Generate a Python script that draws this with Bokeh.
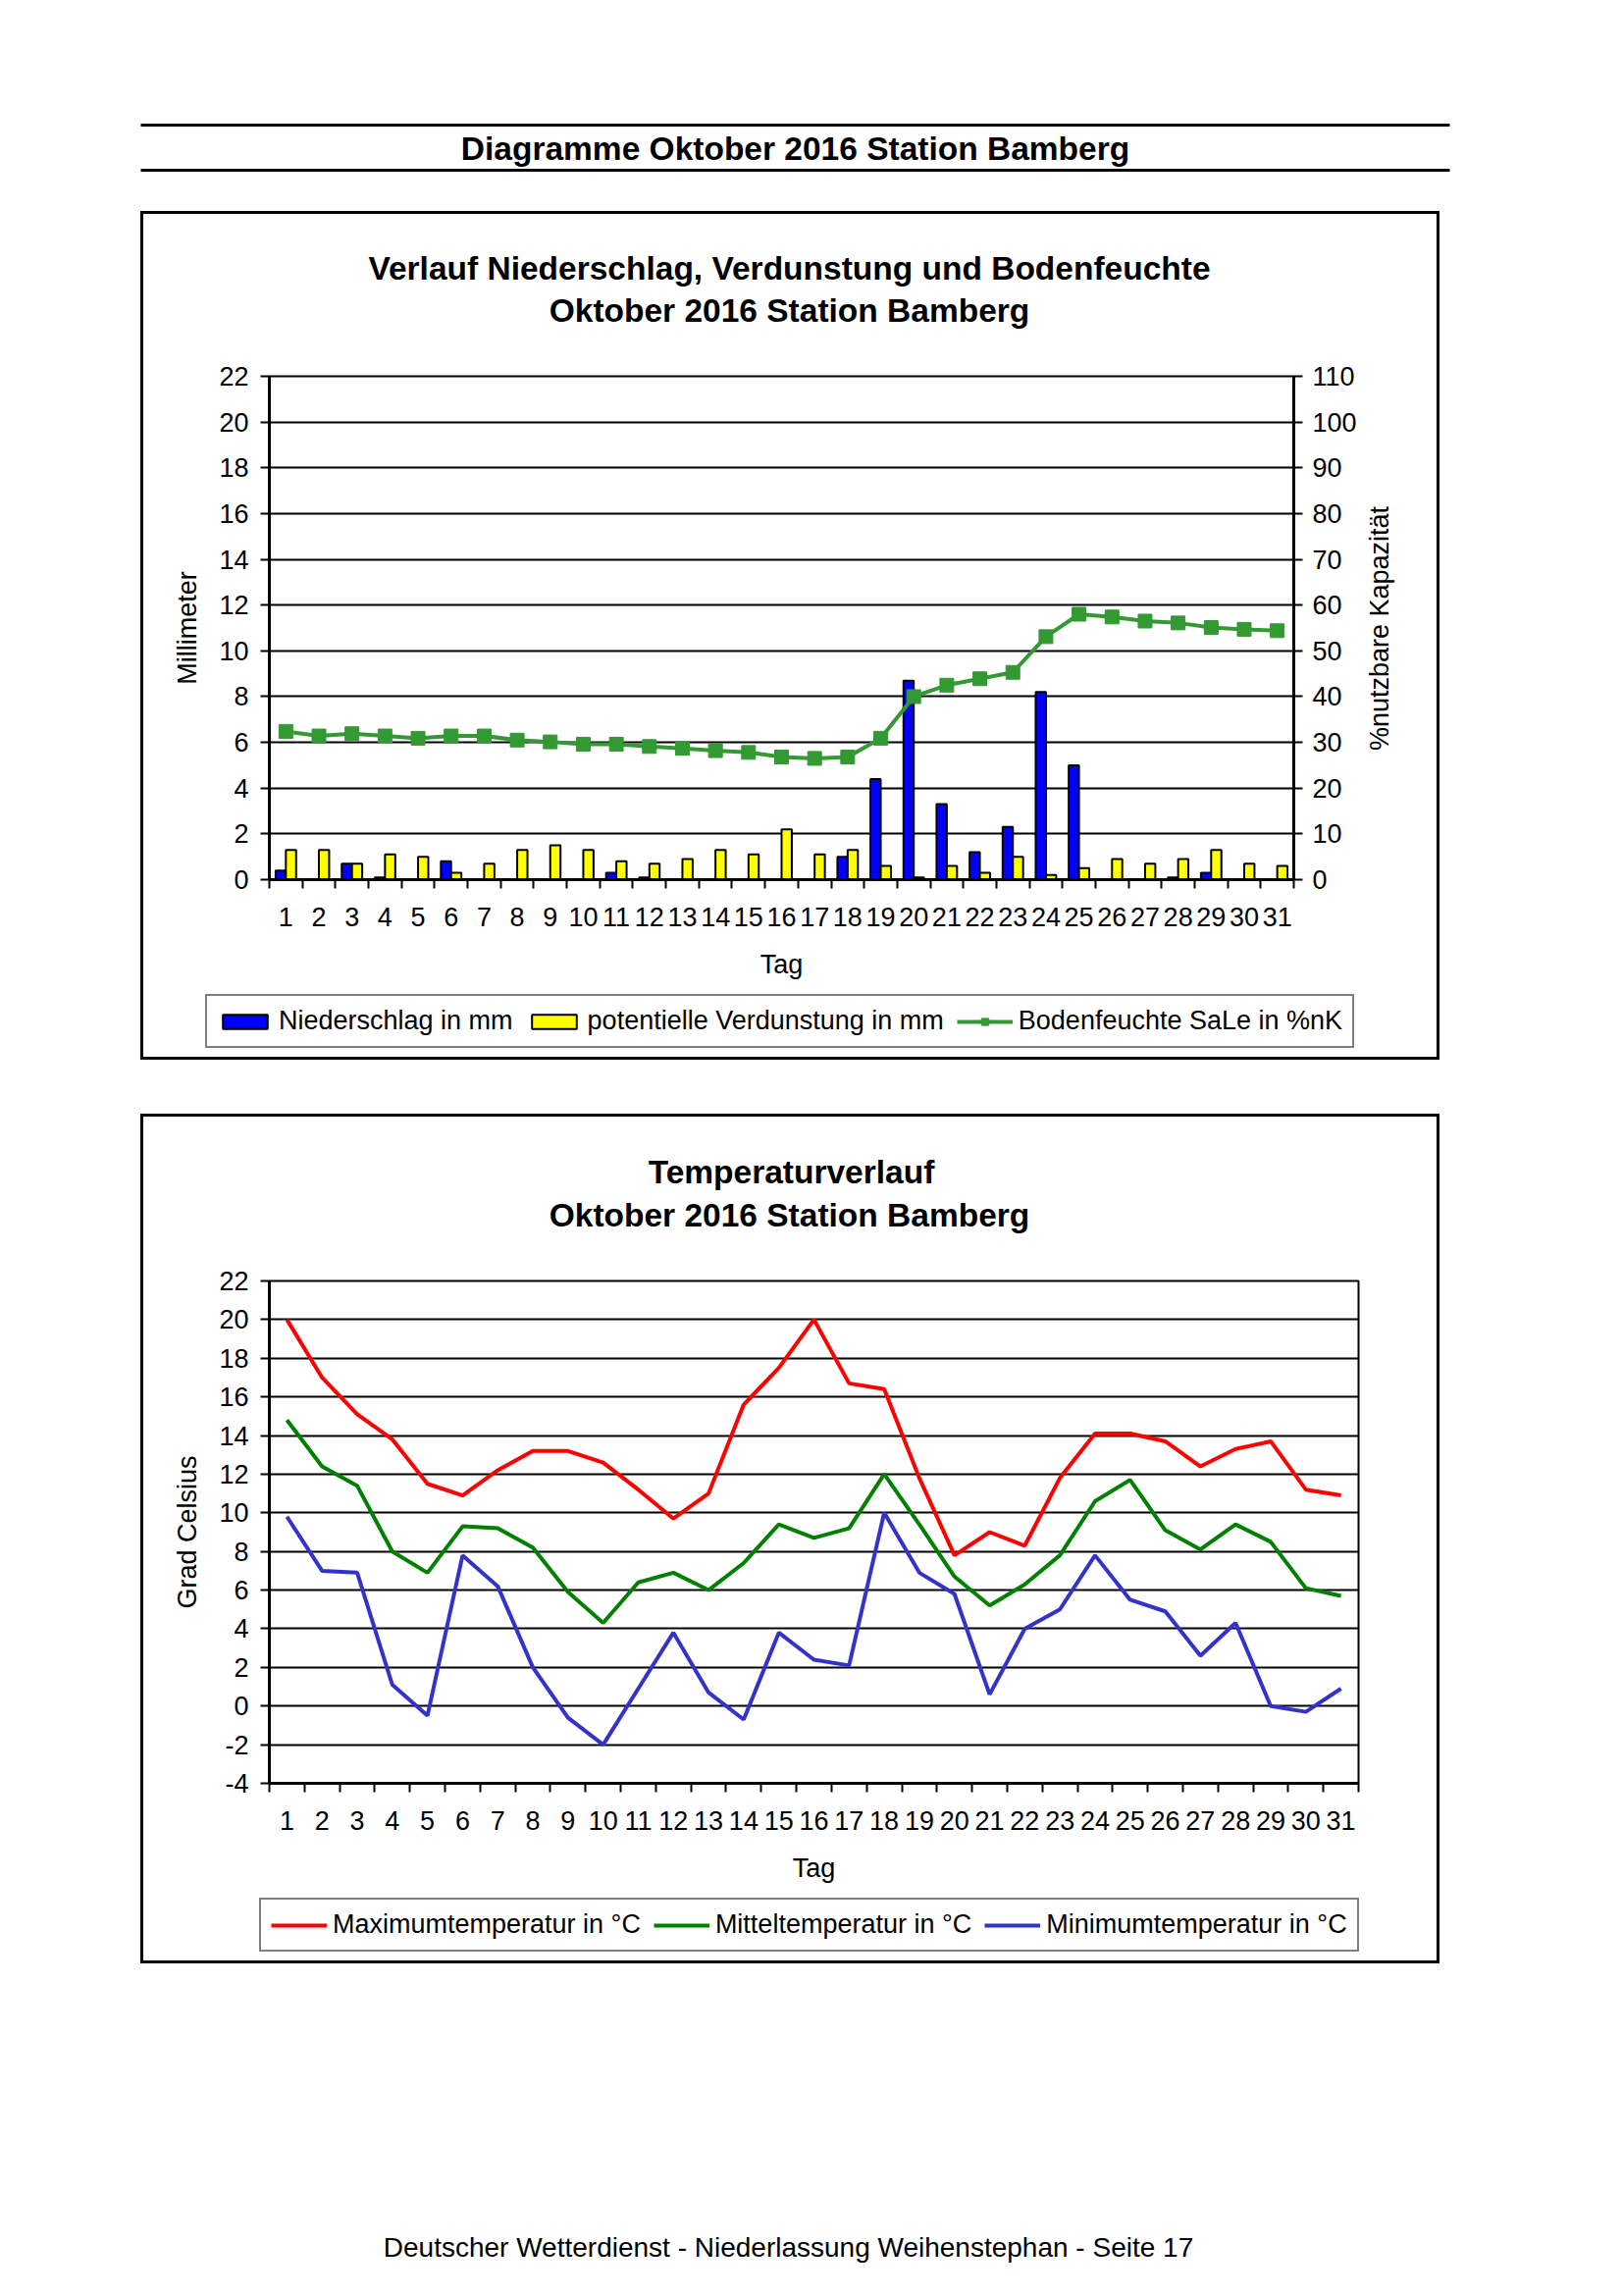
import math
import numpy as np
from bokeh.plotting import figure
from bokeh.models import (Range1d, LinearAxis, FixedTicker, Legend, LegendItem, Plot,
                          Spacer, ColumnDataSource, CustomJSTickFormatter)
from bokeh.layouts import column, row
from bokeh.transform import dodge
from bokeh.core.properties import value
from bokeh.embed import file_html
from bokeh.resources import INLINE

FONT = "Liberation Sans"

# ---------------- data ----------------
days = list(range(1, 32))
niederschlag = [0.4, 0.0, 0.7, 0.1, 0.0, 0.8, 0.0, 0.0, 0.0, 0.0, 0.3, 0.1, 0.0, 0.0, 0.0, 0.0,
                0.0, 1.0, 4.4, 8.7, 3.3, 1.2, 2.3, 8.2, 5.0, 0.0, 0.0, 0.1, 0.3, 0.0, 0.0]
verdunstung = [1.3, 1.3, 0.7, 1.1, 1.0, 0.3, 0.7, 1.3, 1.5, 1.3, 0.8, 0.7, 0.9, 1.3, 1.1, 2.2,
               1.1, 1.3, 0.6, 0.1, 0.6, 0.3, 1.0, 0.2, 0.5, 0.9, 0.7, 0.9, 1.3, 0.7, 0.6]
bodenfeuchte = [32.4, 31.4, 31.9, 31.4, 30.9, 31.4, 31.4, 30.5, 30.1, 29.6, 29.6, 29.1, 28.7, 28.2,
                27.8, 26.8, 26.5, 26.8, 30.9, 40.0, 42.5, 43.9, 45.3, 53.1, 58.0, 57.4, 56.5, 56.1,
                55.1, 54.7, 54.4]
tmax = [20.0, 17.0, 15.1, 13.8, 11.5, 10.9, 12.2, 13.2, 13.2, 12.6, 11.2, 9.7, 11.0, 15.6, 17.5, 20.0,
        16.7, 16.4, 11.8, 7.8, 9.0, 8.3, 11.8, 14.1, 14.1, 13.7, 12.4, 13.3, 13.7, 11.2, 10.9]
tmit = [14.8, 12.4, 11.4, 8.0, 6.9, 9.3, 9.2, 8.2, 5.9, 4.3, 6.4, 6.9, 6.0, 7.4, 9.4, 8.7,
        9.2, 12.0, 9.4, 6.7, 5.2, 6.3, 7.8, 10.6, 11.7, 9.1, 8.1, 9.4, 8.5, 6.1, 5.7]
tmin = [9.8, 7.0, 6.9, 1.1, -0.5, 7.8, 6.2, 2.0, -0.6, -2.0, 0.9, 3.8, 0.7, -0.7, 3.8, 2.4,
        2.1, 10.0, 6.9, 5.8, 0.6, 4.0, 5.0, 7.8, 5.5, 4.9, 2.6, 4.3, 0.0, -0.3, 0.9]

mm_ticks = list(range(0, 23, 2))
pct_ticks = list(range(0, 111, 10))
temp_ticks = list(range(-4, 23, 2))
day_bounds = [d - 0.5 for d in days] + [days[-1] + 0.5]

header_text = "Diagramme Oktober 2016 Station Bamberg"
title1 = ["Verlauf Niederschlag, Verdunstung und Bodenfeuchte", "Oktober 2016 Station Bamberg"]
title2 = ["Temperaturverlauf", "Oktober 2016 Station Bamberg"]
right_label1 = "%nutzbare Kapazität"
legend1_labels = ["Niederschlag in mm", "potentielle Verdunstung in mm", "Bodenfeuchte SaLe in %nK"]
legend2_labels = ["Maximumtemperatur in °C", "Mitteltemperatur in °C", "Minimumtemperatur in °C"]
footer_text = "Deutscher Wetterdienst - Niederlassung Weihenstephan - Seite 17"

# colours / styles
C_NS, C_VD, C_BF = "#0000FF", "#FFFF00", "#339933"
C_MAX, C_MIT, C_MIN = "#FF0000", "#008000", "#3333CC"

PAGE_W = 1600
BOX_W = 1318
FS = "27px"
TITLE_FS = "33.5px"
BOX_STYLE = {"box-shadow": "0 0 0 3px black"}
INT_FMT = CustomJSTickFormatter(code="return tick.toFixed(0)")
HAS_FRAME_ALIGN = "frame_align" in Plot.properties()


def style_axis(ax):
    ax.major_label_text_font = FONT
    ax.major_label_text_font_size = FS
    ax.major_label_text_color = "black"
    ax.axis_line_color = "black"
    ax.axis_line_width = 3
    ax.major_tick_line_color = "black"
    ax.major_tick_line_width = 2
    ax.major_tick_out = 9
    ax.major_tick_in = 0
    ax.minor_tick_line_color = None
    ax.axis_label_text_font = FONT
    ax.axis_label_text_font_size = FS
    ax.axis_label_text_font_style = "normal"
    ax.axis_label_text_color = "black"


def style_xaxis(ax):
    style_axis(ax)
    ax.ticker = FixedTicker(ticks=days, minor_ticks=day_bounds)
    ax.major_tick_line_color = None
    ax.minor_tick_line_color = "black"
    ax.minor_tick_line_width = 2
    ax.minor_tick_out = 9
    ax.minor_tick_in = 0
    ax.major_label_standoff = 19
    ax.axis_label = "Tag"
    ax.axis_label_standoff = 21


def make_fig(width, height, xr, yr, **kw):
    f = figure(width=width, height=height, x_range=xr, y_range=yr, title=None,
               toolbar_location=None, output_backend="svg", **kw)
    if HAS_FRAME_ALIGN:
        f.frame_align = False
    return f


def blank_fig(width, height, transparent=False):
    f = make_fig(width, height, Range1d(0, width), Range1d(height, 0), x_axis_type=None,
                 y_axis_type=None, min_border=0, outline_line_color=None)
    f.background_fill_color = None if transparent else "white"
    f.border_fill_color = None if transparent else "white"
    return f


def text_fig(width, height, items, transparent=False):
    """Figure in pixel coordinates (y downwards) carrying only texts."""
    f = blank_fig(width, height, transparent)
    for item in items:
        x, y, txt, size, style = item[:5]
        angle = item[5] if len(item) > 5 else 0
        f.text(x=[x], y=[y], text=[txt], angle=angle, text_align="center", text_baseline="middle",
               text_font=value(FONT), text_font_size=value(size), text_font_style=value(style),
               text_color="black")
    return f


def legend_fig(width, height, entries, loc):
    """Key strip below a chart: one legend entry per series, drawn in the series' style
    (the key renderers hold no drawable point, only their style)."""
    f = blank_fig(width, height)
    nan = np.array([np.nan])
    items = []
    for label, kind, color in entries:
        if kind == "bar":
            rs = [f.vbar(x=nan, top=nan, width=1, fill_color=color, line_color="black", line_width=2)]
        elif kind == "linesq":
            rs = [f.line(x=nan, y=nan, line_color=color, line_width=4),
                  f.scatter(x=nan, y=nan, marker="square", size=14, fill_color=color, line_color=color)]
        else:
            rs = [f.line(x=nan, y=nan, line_color=color, line_width=4)]
        items.append(LegendItem(label=label, renderers=rs))
    leg = Legend(items=items, location=loc, orientation="horizontal",
                 border_line_color="black", border_line_width=2,
                 background_fill_color="white", background_fill_alpha=1,
                 padding=10, spacing=13, margin=0, label_standoff=6,
                 glyph_width=57, glyph_height=18,
                 label_text_font=FONT, label_text_font_size=FS, label_text_color="black")
    f.add_layout(leg)
    return f


# ---------------- header ----------------
hdr = text_fig(PAGE_W, 218, [(810, 150.7, header_text, TITLE_FS, "bold")], transparent=True)
hdr.segment(x0=[143, 143], y0=[127, 173], x1=[1477, 1477], y1=[127, 173],
            line_color="black", line_width=3)

# ---------------- chart 1 ----------------
t1 = text_fig(BOX_W, 145, [(658, 55, title1[0], TITLE_FS, "bold"),
                           (658, 98.3, title1[1], TITLE_FS, "bold")])

P1_W = 1240
p1 = make_fig(P1_W, 643, Range1d(0.5, 31.5), Range1d(0, 22),
              min_border_left=128, min_border_right=P1_W - 128 - 1044,
              min_border_top=20, min_border_bottom=110)
p1.background_fill_color = "white"
p1.border_fill_color = "white"
p1.extra_y_ranges = {"pct": Range1d(0, 110)}
p1.outline_line_color = "black"
p1.outline_line_width = 2
p1.xgrid.visible = False
p1.ygrid.grid_line_color = "black"
p1.ygrid.grid_line_width = 2

src1 = ColumnDataSource(dict(day=days, ns=niederschlag, vd=verdunstung, bf=bodenfeuchte))
p1.vbar(x=dodge("day", -0.155, range=p1.x_range), top="ns", width=0.31, source=src1,
        fill_color=C_NS, line_color="black", line_width=2)
p1.vbar(x=dodge("day", 0.155, range=p1.x_range), top="vd", width=0.31, source=src1,
        fill_color=C_VD, line_color="black", line_width=2)
p1.line("day", "bf", source=src1, y_range_name="pct", line_color=C_BF, line_width=4)
p1.scatter("day", "bf", source=src1, y_range_name="pct", marker="square", size=14,
           fill_color=C_BF, line_color=C_BF)

ly = p1.yaxis[0]
style_axis(ly)
ly.ticker = FixedTicker(ticks=mm_ticks)
ly.formatter = INT_FMT
ly.major_label_standoff = 12
ly.axis_label = "Millimeter"
ly.axis_label_standoff = 14

ry = LinearAxis(y_range_name="pct", ticker=FixedTicker(ticks=pct_ticks), formatter=INT_FMT)
style_axis(ry)
ry.major_label_standoff = 10
p1.add_layout(ry, "right")

style_xaxis(p1.xaxis[0])

# label of the right axis, reading bottom-to-top like the reference
r1 = text_fig(BOX_W - P1_W, 643, [(19.4, 277, right_label1, FS, "normal", math.pi / 2)])

l1 = legend_fig(BOX_W, 71, [(legend1_labels[0], "bar", C_NS),
                            (legend1_labels[1], "bar", C_VD),
                            (legend1_labels[2], "linesq", C_BF)], (63, 9))

box1 = column(t1, row(p1, r1), l1, styles=BOX_STYLE)

# ---------------- chart 2 ----------------
t2 = text_fig(BOX_W, 147, [(660, 55.5, title2[0], TITLE_FS, "bold"),
                           (658, 100.3, title2[1], TITLE_FS, "bold")])

p2 = make_fig(BOX_W, 642, Range1d(0.5, 31.5), Range1d(-4, 22),
              min_border_left=128, min_border_right=80, min_border_top=20, min_border_bottom=110)
p2.background_fill_color = "white"
p2.border_fill_color = "white"
p2.outline_line_color = "black"
p2.outline_line_width = 2
p2.xgrid.visible = False
p2.ygrid.grid_line_color = "black"
p2.ygrid.grid_line_width = 2

src2 = ColumnDataSource(dict(day=days, tmax=tmax, tmit=tmit, tmin=tmin))
p2.line("day", "tmax", source=src2, line_color=C_MAX, line_width=4)
p2.line("day", "tmit", source=src2, line_color=C_MIT, line_width=4)
p2.line("day", "tmin", source=src2, line_color=C_MIN, line_width=4)

ly2 = p2.yaxis[0]
style_axis(ly2)
ly2.ticker = FixedTicker(ticks=temp_ticks)
ly2.formatter = INT_FMT
ly2.major_label_standoff = 12
ly2.axis_label = "Grad Celsius"
ly2.axis_label_standoff = 14

style_xaxis(p2.xaxis[0])

l2 = legend_fig(BOX_W, 71, [(legend2_labels[0], "line", C_MAX),
                            (legend2_labels[1], "line", C_MIT),
                            (legend2_labels[2], "line", C_MIN)], (118, 9))

box2 = column(t2, p2, l2, styles=BOX_STYLE)

# ---------------- footer ----------------
ftr = text_fig(PAGE_W, 335, [(803, 292, footer_text, "28px", "normal")], transparent=True)

layout = column(hdr,
                row(Spacer(width=146, height=859), box1),
                Spacer(width=PAGE_W, height=61),
                row(Spacer(width=146, height=860), box2),
                ftr)

open("out.html", "w").write(file_html(layout, INLINE, "Diagramme Oktober 2016 Station Bamberg"))
